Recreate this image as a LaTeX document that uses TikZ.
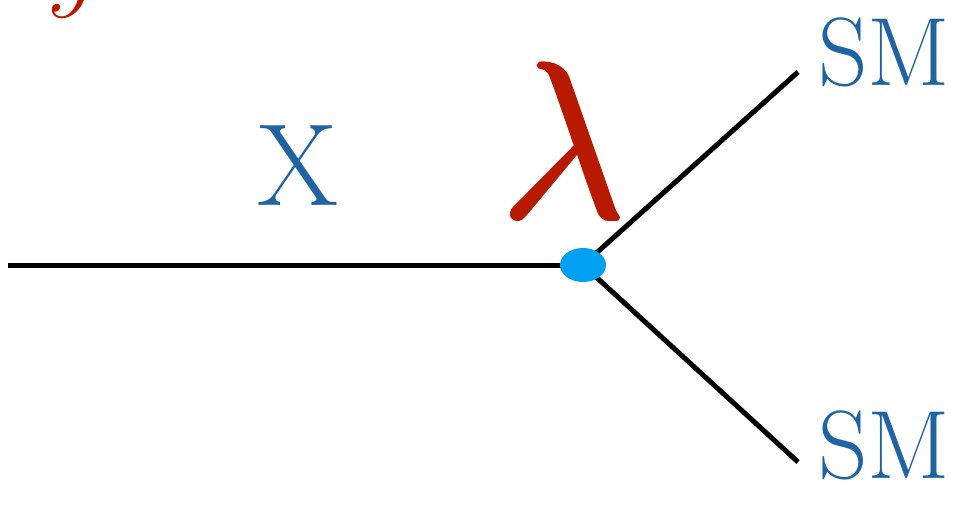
\documentclass[tikz,border=0pt]{standalone}
\usetikzlibrary{shapes.geometric}
\definecolor{smblue}{HTML}{1F63A2}
\definecolor{lamred}{HTML}{B81A00}
\definecolor{dotblue}{HTML}{00A0F2}
\newcommand{\heavytext}[1]{\special{pdf:literal direct 2 Tr 0.3 w}#1\special{pdf:literal direct 0 Tr}}
\begin{document}
\begin{tikzpicture}[x=1pt,y=-1pt,
  leg/.style={line width=5pt},
  bluetext/.style={text=smblue,inner sep=0pt,anchor=base},
  redmath/.style={text=lamred,inner sep=0pt,anchor=base,font=\fontsize{20.74}{20.74}\selectfont},
]
\useasboundingbox (0,0) rectangle (973,504);
\begin{scope}
\clip (0,0) rectangle (973,504);
\node[redmath,scale=4.8,anchor=base west] (y) at (47,-2) {$y$};
\end{scope}
\coordinate (in) at (8,265);
\coordinate (v) at (583,265);
\coordinate (o1) at (798,72);
\coordinate (o2) at (798,462);
\draw[leg] (in) -- (v);
\draw[leg] (v) -- (o1);
\draw[leg] (v) -- (o2);
\node[fill=dotblue,ellipse,minimum width=46pt,minimum height=34pt,inner sep=0pt] (dot) at (v) {};
\node[bluetext] (x) at (298,205) {\fontsize{117}{117}\selectfont X};
\node[bluetext] (sm1) at (884,85) {\fontsize{97}{97}\selectfont SM};
\node[bluetext] (sm2) at (884,478) {\fontsize{97}{97}\selectfont SM};
\node[redmath,scale=10.7] (lam) at (563,217) {\heavytext{$\lambda$}};
\end{tikzpicture}
\end{document}
